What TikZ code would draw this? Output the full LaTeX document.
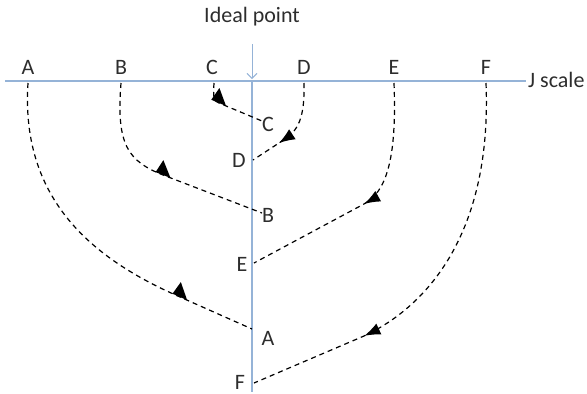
\documentclass[tikz,border=0pt]{standalone}
\usepackage{fontspec}
\setmainfont{Carlito}
\usetikzlibrary{arrows.meta,decorations.markings}
\definecolor{axisblue}{RGB}{149,179,215}
\definecolor{txt}{RGB}{45,45,45}
\tikzset{
  lbl/.style={font=\fontsize{22}{26}\selectfont, text=txt, inner sep=0pt},
  axis/.style={draw=axisblue, line width=1.2pt},
  flow/.style={draw=black, line width=1.2pt, dash pattern=on 5pt off 4pt},
  tri/.style={postaction={decorate}, decoration={markings, mark=at position #1 with {\fill[black] (-8pt,0pt)--(8pt,0pt)--(-5pt,14pt)--cycle;}}},
  head/.style={postaction={decorate}, decoration={markings, mark=at position #1 with {\arrow{Latex[length=16pt,width=12pt]}}}},
}
\begin{document}
\begin{tikzpicture}[x=1pt,y=-1pt]
\useasboundingbox (0,0) rectangle (587,394);
% axes
\coordinate (hl) at (5,81);
\coordinate (hr) at (526,81);
\coordinate (vt) at (252,81);
\coordinate (vb) at (252,392);
\coordinate (ia) at (252,44);
\coordinate (ib) at (252,79);
\draw[axis] (hl) -- (hr);
\draw[axis] (vt) -- (vb);
\draw[axis, line width=0.9pt, -{Straight Barb[length=5pt,width=10pt]}] (ia) -- (ib);
\node[lbl] (ideal) at (252,17) {Ideal point};
\node[lbl, anchor=west] (jscale) at (528,80) {J scale};
% top labels
\node[lbl] (tA) at (28,67) {A};
\node[lbl] (tB) at (121,67) {B};
\node[lbl] (tC) at (212,67) {C};
\node[lbl] (tD) at (304,67) {D};
\node[lbl] (tE) at (394,67) {E};
\node[lbl] (tF) at (486,67) {F};
% end labels
\node[lbl] (eC) at (268,124) {C};
\node[lbl] (eD) at (239,160) {D};
\node[lbl] (eB) at (268,215) {B};
\node[lbl] (eE) at (242,264) {E};
\node[lbl] (eA) at (268,338) {A};
\node[lbl] (eF) at (240,382) {F};
% start points on the scale
\coordinate (sA) at (28,83);
\coordinate (sB) at (121,83);
\coordinate (sC) at (214,83);
\coordinate (sD) at (304,83);
\coordinate (sE) at (394,83);
\coordinate (sF) at (486,83);
% end points on the vertical
\coordinate (jC) at (262,121);
\coordinate (jD) at (253,160);
\coordinate (jB) at (262,213);
\coordinate (jE) at (254,263);
\coordinate (jA) at (252,329);
\coordinate (jF) at (254,383);
% paths
\draw[flow, tri=-79pt] (sA) .. controls (20,205) and (100,262) .. (180,297) -- (jA);
\draw[flow, tri=-106pt] (sB) .. controls (116,145) and (128,161) .. (163,175) -- (jB);
\draw[flow, tri=-47pt] (sC) .. controls (213,99) and (214,101) .. (219,103) -- (jC);
\draw[flow, head=-31pt] (sD) .. controls (305,125) and (295,133) .. (279,143) -- (jD);
\draw[flow, head=-125pt] (sE) .. controls (397,160) and (386,192) .. (364,204) -- (jE);
\draw[flow, head=-120pt] (sF) .. controls (492,230) and (430,305) .. (364,336) -- (jF);
\end{tikzpicture}
\end{document}
